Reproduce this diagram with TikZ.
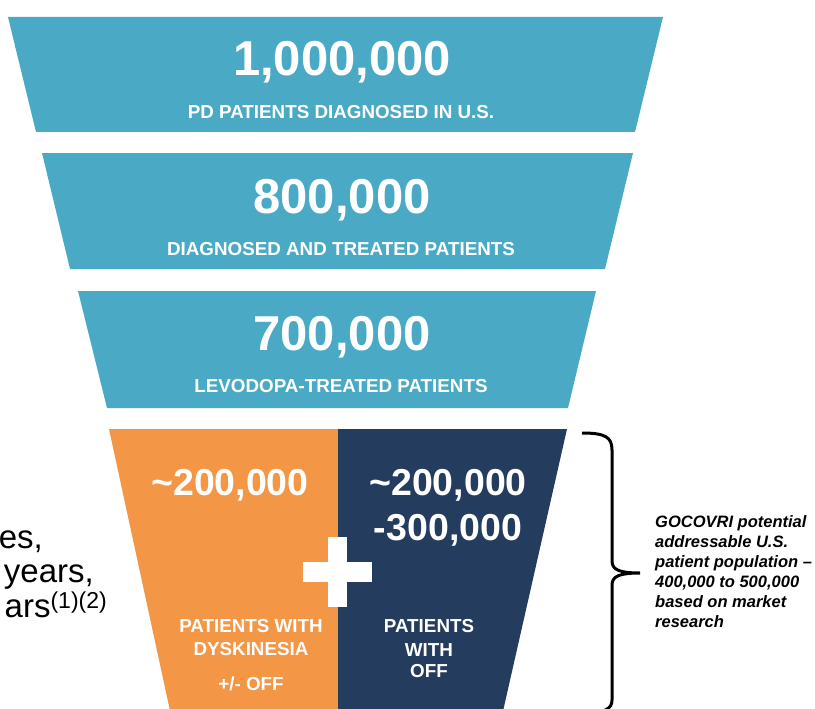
\documentclass[tikz,border=0pt]{standalone}
\usepackage{fontspec}
\setmainfont{Liberation Sans}
\definecolor{funnelblue}{HTML}{4AAAC6}
\definecolor{funnelorange}{HTML}{F39646}
\definecolor{funnelnavy}{HTML}{243C5E}
\begin{document}
\begin{tikzpicture}[x=1pt,y=-1pt,
    bignum/.style={text=white,inner sep=0,anchor=base,font=\fontsize{49}{49}\selectfont\bfseries},
    midnum/.style={text=white,inner sep=0,anchor=base,font=\fontsize{37.5}{37.5}\selectfont\bfseries},
    caption/.style={text=white,inner sep=0,anchor=base,font=\fontsize{18.8}{18.8}\selectfont\bfseries},
    sidetext/.style={inner sep=0,anchor=base east,font=\fontsize{33}{33}\selectfont},
    note/.style={inner sep=0,anchor=base west,align=left,font=\fontsize{16.5}{20}\selectfont\bfseries\itshape}]
  \useasboundingbox (0,0) rectangle (815,709);
  \clip (0,0) rectangle (815,709);
  \fill[funnelblue] (8,17) -- (663,17) -- (635,132) -- (36,132) -- cycle;
  \fill[funnelblue] (42,153) -- (633,153) -- (605,269) -- (70,269) -- cycle;
  \fill[funnelblue] (78,291) -- (596,291) -- (568,408) -- (107,408) -- cycle;
  \fill[funnelorange] (109,429) -- (338,429) -- (338,720) -- (172,720) -- cycle;
  \fill[funnelnavy] (338,429) -- (567,429) -- (501,720) -- (338,720) -- cycle;
  \fill[white] (327.5,537) rectangle (346.5,607);
  \fill[white] (303,562) rectangle (372,582);
  \draw
    (342,76) node[bignum] (n1) {1,000,000}
    (341,118) node[caption] (c1) {PD PATIENTS DIAGNOSED IN U.S.}
    (342,213) node[bignum] (n2) {800,000}
    (341,255) node[caption] (c2) {DIAGNOSED AND TREATED PATIENTS}
    (342,350) node[bignum] (n3) {700,000}
    (341,392) node[caption] (c3) {LEVODOPA-TREATED PATIENTS}
    (230,495) node[midnum] (n4) {\textasciitilde200,000}
    (448,495) node[midnum] (n5) {\textasciitilde200,000}
    (448,540) node[midnum] (n6) {-300,000}
    (251,632) node[caption] (c4) {PATIENTS WITH}
    (251,655) node[caption] (c5) {DYSKINESIA}
    (251,690) node[caption] (c6) {+/- OFF}
    (429,632) node[caption] (c7) {PATIENTS}
    (429,656) node[caption] (c8) {WITH}
    (429,677) node[caption] (c9) {OFF};
  \draw
    (43,548) node[sidetext] (s1) {es,}
    (94,582) node[sidetext] (s2) {years,}
    (107,617) node[sidetext] (s3) {ars\raisebox{9pt}{\fontsize{23}{23}\selectfont(1)(2)}};
  \node[note] (gocovri) at (655,627) {GOCOVRI potential\\addressable U.S.\\patient population --\\400,000 to 500,000\\based on market\\research};
  \draw[line width=3pt]
    (582,433) .. controls (605,433) and (612,437) .. (612,450) -- (612,561)
    .. controls (612,570) and (620,573) .. (640,573)
    .. controls (620,573) and (612,576) .. (612,585) -- (612,700)
    .. controls (612,709) and (605,713) .. (582,713);
\end{tikzpicture}
\end{document}
